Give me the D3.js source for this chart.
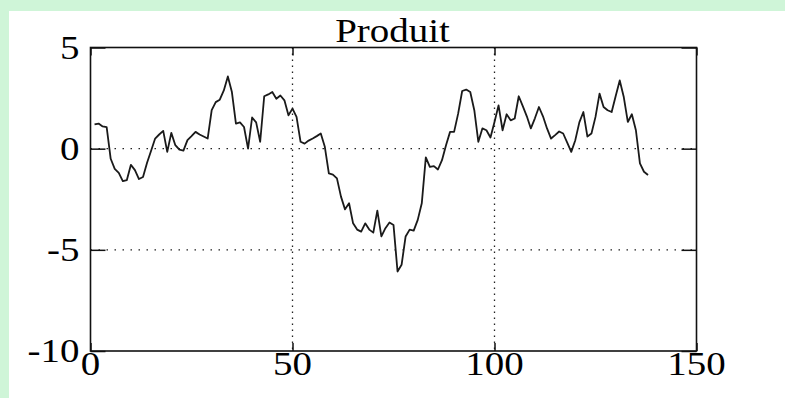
<!DOCTYPE html>
<html>
<head>
<meta charset="utf-8">
<script src="https://cdn.jsdelivr.net/npm/d3@7/dist/d3.min.js"></script>
<style>
  html, body { margin: 0; padding: 0; background: #cff5d8; }
  svg { display: block; }
</style>
</head>
<body>
<svg id="chart" width="785" height="398"></svg>
<script>
// Series: sample index and value of the product signal
const sampleIndex = d3.range(1, 139);
const productValues = [
  1.2, 1.24, 1.1, 1.07, -0.5, -1.0, -1.2, -1.6, -1.55, -0.8,
  -1.06, -1.5, -1.4, -0.7, -0.1, 0.5, 0.7, 0.88, -0.16, 0.78,
  0.17, -0.05, -0.1, 0.42, 0.62, 0.83, 0.7, 0.6, 0.5, 1.9,
  2.3, 2.42, 2.88, 3.57, 2.8, 1.24, 1.3, 1.07, 0.0, 1.54,
  1.3, 0.34, 2.59, 2.68, 2.8, 2.47, 2.63, 2.39, 1.65, 1.98,
  1.57, 0.34, 0.25, 0.4, 0.5, 0.62, 0.75, 0.09, -1.22, -1.28,
  -1.47, -2.37, -3.0, -2.7, -3.69, -4.0, -4.1, -3.69, -4.0, -4.15,
  -3.06, -4.34, -3.93, -3.65, -3.77, -6.07, -5.74, -4.34, -4.0, -4.05,
  -3.52, -2.7, -0.43, -0.9, -0.86, -1.03, -0.57, 0.17, 0.83, 0.83,
  1.73, 2.85, 2.92, 2.8, 1.9, 0.34, 1.0, 0.91, 0.55, 1.32,
  2.14, 0.91, 1.7, 1.4, 1.49, 2.59, 2.1, 1.6, 1.0, 1.5,
  2.06, 1.6, 1.0, 0.5, 0.67, 0.85, 0.75, 0.3, -0.16, 0.42,
  1.3, 1.81, 0.6, 0.75, 1.57, 2.72, 2.06, 1.9, 1.81, 2.6,
  3.37, 2.55, 1.32, 1.7, 0.91, -0.73, -1.14, -1.3
];
const xTicks = [0, 50, 100, 150];
const yTicks = [-10, -5, 0, 5];
const xTickLabels = ["0", "50", "100", "150"];
const yTickLabels = ["-10", "-5", "0", "5"];
const xGrid = [50, 100];
const yGrid = [-5, 0];
const chartTitle = "Produit";

const svg = d3.select("#chart");
const plot = { left: 90.5, right: 696.5, top: 47.5, bottom: 351 };
const font = "'Liberation Serif', 'Times New Roman', serif";
const fontSize = 33;
const widen = 1.18; // glyphs are drawn a little wider than the font's natural width

// White page panel
svg.append("rect")
  .attr("x", 9).attr("y", 11)
  .attr("width", 785 - 9).attr("height", 398 - 11)
  .attr("fill", "#ffffff");

const x = d3.scaleLinear().domain([0, 150]).range([plot.left, plot.right]);
const y = d3.scaleLinear().domain([-10, 5]).range([plot.bottom, plot.top]);

const g = svg.append("g");

// Dotted grid
g.selectAll(".vgrid").data(xGrid).join("line")
  .attr("x1", d => x(d)).attr("x2", d => x(d))
  .attr("y1", plot.top).attr("y2", plot.bottom)
  .attr("stroke", "#222").attr("stroke-width", 1.3)
  .attr("stroke-dasharray", "1.5,4.5");
g.selectAll(".hgrid").data(yGrid).join("line")
  .attr("x1", plot.left).attr("x2", plot.right)
  .attr("y1", d => y(d)).attr("y2", d => y(d))
  .attr("stroke", "#222").attr("stroke-width", 1.3)
  .attr("stroke-dasharray", "1.5,6.5");

// Signal
const line = d3.line()
  .x((d, i) => x(sampleIndex[i]))
  .y(d => y(d));
g.append("path")
  .datum(productValues)
  .attr("d", line)
  .attr("fill", "none")
  .attr("stroke", "#1a1a1a")
  .attr("stroke-width", 1.8)
  .attr("stroke-linejoin", "round");

// Inward ticks on all four sides, no labels (labels drawn below)
const xAxis = d3.axisBottom(x).tickValues(xTicks).tickSize(-8).tickFormat("");
const yAxis = d3.axisLeft(y).tickValues(yTicks).tickSize(-15).tickFormat("");
const xTop = d3.axisTop(x).tickValues(xTicks).tickSize(-8).tickFormat("");
const yRight = d3.axisRight(y).tickValues(yTicks).tickSize(-15).tickFormat("");

function style(sel) {
  sel.select(".domain").remove();
  sel.selectAll(".tick line").attr("stroke", "#111").attr("stroke-width", 1.5);
}
svg.append("g").attr("transform", `translate(0,${plot.bottom})`).call(xAxis).call(style);
svg.append("g").attr("transform", `translate(${plot.left},0)`).call(yAxis).call(style);
svg.append("g").attr("transform", `translate(0,${plot.top})`).call(xTop).call(style);
svg.append("g").attr("transform", `translate(${plot.right},0)`).call(yRight).call(style);

svg.append("rect")
  .attr("x", plot.left).attr("y", plot.top)
  .attr("width", plot.right - plot.left).attr("height", plot.bottom - plot.top)
  .attr("fill", "none").attr("stroke", "#111").attr("stroke-width", 1.6);

// Text helper: stretch each label horizontally around its anchor
function stretch(sel) {
  sel.each(function () {
    const w = this.getComputedTextLength();
    d3.select(this)
      .attr("textLength", w * widen)
      .attr("lengthAdjust", "spacingAndGlyphs");
  });
}

const labels = svg.append("g")
  .style("font-family", font)
  .style("font-size", fontSize + "px")
  .attr("fill", "#000");

labels.selectAll(".xl").data(xTicks).join("text")
  .attr("x", d => x(d))
  .attr("y", plot.bottom + 24)
  .attr("text-anchor", "middle")
  .text((d, i) => xTickLabels[i])
  .call(stretch);

labels.selectAll(".yl").data(yTicks).join("text")
  .attr("x", plot.left - 11)
  .attr("y", d => y(d) + 11)
  .attr("text-anchor", "end")
  .text((d, i) => yTickLabels[i])
  .call(stretch);

labels.append("text")
  .attr("x", (plot.left + plot.right) / 2 - 1)
  .attr("y", plot.top - 6)
  .attr("text-anchor", "middle")
  .text(chartTitle)
  .call(stretch);
</script>
</body>
</html>
